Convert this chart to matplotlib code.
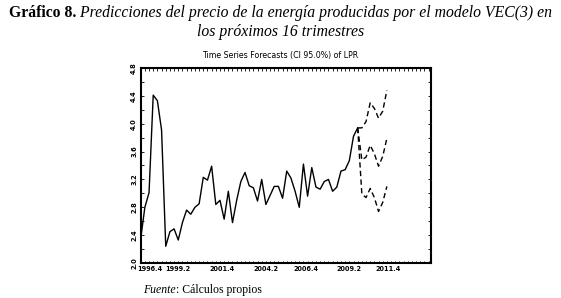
import numpy as np
import matplotlib
matplotlib.use("Agg")
import matplotlib.pyplot as plt
from matplotlib.ticker import MultipleLocator, FixedLocator

# ---- data ----
hist_values = [2.35, 2.80, 3.01, 4.41, 4.33, 3.91, 2.24, 2.45, 2.49, 2.33,
               2.58, 2.76, 2.70, 2.80, 2.85, 3.23, 3.19, 3.39, 2.84, 2.90,
               2.63, 3.03, 2.58, 2.90, 3.17, 3.30, 3.11, 3.08, 2.89, 3.20,
               2.84, 2.97, 3.10, 3.10, 2.93, 3.32, 3.22, 3.03, 2.80, 3.42,
               2.96, 3.37, 3.09, 3.06, 3.17, 3.20, 3.03, 3.09, 3.32, 3.34,
               3.47, 3.82, 3.94]
fc_upper = [3.94, 3.94, 4.03, 4.30, 4.22, 4.08, 4.18, 4.48]
fc_mid = [3.94, 3.48, 3.52, 3.69, 3.57, 3.39, 3.53, 3.79]
fc_lower = [3.94, 2.99, 2.94, 3.07, 2.94, 2.74, 2.87, 3.10]
xtick_labels = ['1996.4', '1999.2', '2001.4', '2004.2', '2006.4', '2009.2', '2011.4']
xtick_pos = [2.2, 8.9, 19.6, 29.9, 39.5, 49.8, 59.4]
ytick_values = [2.0, 2.4, 2.8, 3.2, 3.6, 4.0, 4.4, 4.8]

W, H = 561, 298
fig = plt.figure(figsize=(W / 100, H / 100), dpi=100)
fig.patch.set_facecolor('white')

ax = fig.add_axes([140.7 / W, 1 - 263 / H, 290 / W, 195 / H])
x_hist = np.arange(len(hist_values))
x_fc = np.arange(len(fc_mid)) + len(hist_values) - 1

ax.plot(x_hist, hist_values, color='black', lw=1.0)
for s in (fc_upper, fc_mid, fc_lower):
    ax.plot(x_fc, s, color='black', lw=1.0, linestyle=(0, (3.8, 2.4)))

ax.set_xlim(0, 69.5)
ax.set_ylim(2.0, 4.8)

for sp in ax.spines.values():
    sp.set_linewidth(1.5)

ax.yaxis.set_major_locator(FixedLocator(ytick_values))
ax.yaxis.set_minor_locator(MultipleLocator(0.2))
ax.set_yticklabels([f'{v:.1f}' for v in ytick_values])
ax.xaxis.set_major_locator(FixedLocator(xtick_pos))
ax.set_xticklabels(xtick_labels)
ax.xaxis.set_minor_locator(MultipleLocator(1))

ax.tick_params(axis='x', which='major', length=0, pad=2.2, labelsize=4.7)
ax.tick_params(axis='x', which='minor', direction='in', length=1.8, width=0.6,
               top=True, bottom=True)
ax.tick_params(axis='y', which='both', direction='in', length=2.2, width=0.6,
               left=True, right=True)
ax.tick_params(axis='y', which='major', labelsize=4.8, pad=2.5, labelrotation=90)
for lab in ax.get_xticklabels() + ax.get_yticklabels():
    lab.set_fontweight('bold')
    lab.set_family('DejaVu Sans')
for lab in ax.get_yticklabels():
    lab.set_va('center')

ax.set_title('Time Series Forecasts (CI 95.0%) of LPR', fontsize=5.7,
             family='DejaVu Sans', pad=7, x=(280 - 140.7) / 290)

# ---- caption with mixed styles ----
serif = 'Liberation Serif'
renderer = fig.canvas.get_renderer()
cap_size = 11.3
t1 = fig.text(0, 0, 'Gráfico 8.', fontsize=cap_size, family=serif,
              fontweight='bold', va='baseline')
t2 = fig.text(0, 0, ' Predicciones del precio de la energía producidas por el modelo VEC(3) en',
              fontsize=cap_size, family=serif, style='italic', va='baseline')
w1 = t1.get_window_extent(renderer).width
w2 = t2.get_window_extent(renderer).width
total = w1 + w2
xc = 280.5
x0 = xc - total / 2
base1 = 1 - 17 / H
t1.set_position((x0 / W, base1))
t2.set_position(((x0 + w1) / W, base1))
fig.text(xc / W, 1 - 36 / H, 'los próximos 16 trimestres', fontsize=cap_size,
         family=serif, style='italic', ha='center', va='baseline')

f1 = fig.text(143 / W, 1 - 293 / H, 'Fuente', fontsize=8.5, family=serif,
              style='italic', va='baseline')
wf = f1.get_window_extent(renderer).width
fig.text((143 + wf) / W, 1 - 293 / H, ': Cálculos propios', fontsize=8.5,
         family=serif, va='baseline')

fig.savefig('out.png', dpi=100, facecolor='white')
